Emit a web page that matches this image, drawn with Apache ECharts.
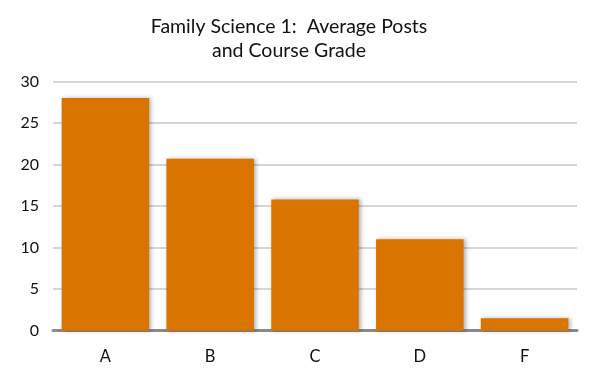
<!DOCTYPE html>
<html><head><meta charset="utf-8">
<script src="https://cdn.jsdelivr.net/npm/echarts@6/dist/echarts.min.js"></script>
<style>html,body{margin:0;padding:0;background:#fff}#c{width:600px;height:391px}</style>
</head><body><div id="c"></div>
<script>
var categories = ['A','B','C','D','F'];
var avgPosts = [28, 20.7, 15.8, 11, 1.5];
var yTicks = [0,5,10,15,20,25,30];
var chart = echarts.init(document.getElementById('c'), null, {renderer:'canvas'});
chart.setOption({
  animation:false,
  backgroundColor:'#fff',
  title:{
    text:'Family Science 1:  Average Posts\nand Course Grade',
    left:284, top:10, textAlign:'center',
    textStyle:{fontFamily:'Lato', fontWeight:'normal', fontSize:19.5, color:'#111', lineHeight:24}
  },
  grid:{left:53, right:23, top:81.5, bottom:60.3},
  xAxis:{
    type:'category', data:categories,
    axisLine:{lineStyle:{color:'#8a8a8a', width:3}},
    axisTick:{show:false},
    axisLabel:{fontFamily:'Lato', fontSize:16.5, color:'#111', margin:17}
  },
  yAxis:{
    type:'value', min:0, max:30, interval:5,
    axisLine:{show:false}, axisTick:{show:false},
    splitLine:{lineStyle:{color:'#c8c8c8', width:1.5}},
    axisLabel:{fontFamily:'Lato', fontSize:16, color:'#111', margin:14}
  },
  series:[{
    type:'bar', data:avgPosts, barCategoryGap:'16.5%',
    itemStyle:{color:'#d97400', shadowColor:'rgba(0,0,0,0.3)', shadowBlur:4, shadowOffsetX:2, shadowOffsetY:0}
  }]
});
</script></body></html>
